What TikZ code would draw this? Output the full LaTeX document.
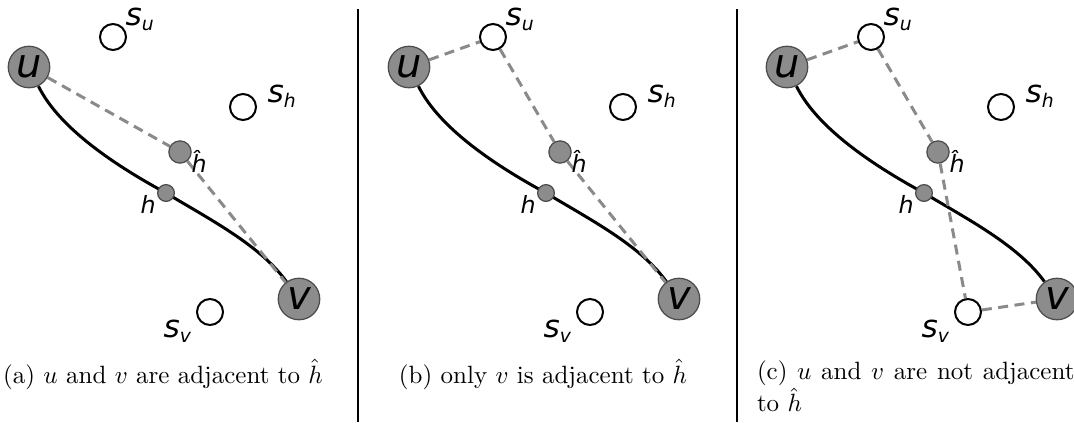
\documentclass[tikz,border=0pt]{standalone}
\usepackage{fontspec}
\newfontfamily\dvs{DejaVu Sans}
\definecolor{nodegray}{HTML}{8C8C8C}
\definecolor{dashgray}{HTML}{8A8A8A}
\pgfdeclarelayer{bg}
\pgfsetlayers{bg,main}
\newcommand\lsub[1]{\raisebox{-2pt}{\fontsize{7.5}{7.5}\selectfont #1}}
\tikzset{
  big/.style={circle, fill=nodegray, draw=black!70, line width=0.5pt, minimum size=16.6pt, inner sep=0pt,
    font=\dvs\itshape\fontsize{16}{16}\selectfont},
  hatnode/.style={circle, fill=nodegray, draw=black!70, line width=0.5pt, minimum size=8.9pt, inner sep=0pt},
  smallnode/.style={circle, fill=nodegray, draw=black!70, line width=0.5pt, minimum size=6.7pt, inner sep=0pt},
  site/.style={circle, fill=white, draw=black, line width=0.8pt, minimum size=10.4pt, inner sep=0pt},
  lbl/.style={anchor=base west, inner sep=0pt, font=\dvs\itshape\fontsize{12.5}{12.5}\selectfont},
  hlbl/.style={anchor=base west, inner sep=0pt, font=\dvs\itshape\fontsize{9.5}{9.5}\selectfont},
  curvepath/.style={draw=black, line width=1.2pt},
  adj/.style={draw=dashgray, line width=1.2pt, dash pattern=on 4pt off 2.6pt},
  captext/.style={anchor=base, inner sep=0pt, font=\fontsize{10}{12}\selectfont},
  divider/.style={draw=black, line width=0.5pt}
}
\newcommand\mypanel{%
  \node[big] (u) at (29,67) {u};
  \node[big] (v) at (299,299) {v};
  \node[site] (su) at (113,37) {};
  \node[site] (sh) at (243,107) {};
  \node[site] (sv) at (210,312) {};
  \node[hatnode] (hh) at (180,152) {};
  \node[smallnode] (h) at (166,193) {};
  \node[lbl] (lsu) at (125,25) {s\lsub{u}};
  \node[lbl] (lsh) at (267,102) {s\lsub{h}};
  \node[lbl] (lsv) at (163,337) {s\lsub{v}};
  \node[hlbl] (lh) at (140,213) {h};
  \node[hlbl] (lhh) at (191,172) {ĥ};
  \begin{pgfonlayer}{bg}
    \draw[curvepath] (u) .. controls (60,130) and (120,168) .. (h.center)
      .. controls (209,219) and (260,245) .. (v);
  \end{pgfonlayer}
}
\begin{document}
\begin{tikzpicture}[x=0.4pt, y=-0.4pt]
  \useasboundingbox (0,0) rectangle (1074,422);
  % panel (a)
  \begin{scope}[name prefix=a-]
    \mypanel
    \begin{pgfonlayer}{bg}
      \draw[adj] (u) -- (hh) -- (v);
    \end{pgfonlayer}
  \end{scope}
  % panel (b)
  \begin{scope}[name prefix=b-, shift={(380,0)}]
    \mypanel
    \begin{pgfonlayer}{bg}
      \draw[adj] (u) -- (su) -- (hh) -- (v);
    \end{pgfonlayer}
  \end{scope}
  % panel (c)
  \begin{scope}[name prefix=c-, shift={(758,0)}]
    \mypanel
    \begin{pgfonlayer}{bg}
      \draw[adj] (u) -- (su) -- (hh) -- (sv) -- (v);
    \end{pgfonlayer}
  \end{scope}
  % dividers
  \draw[divider] (358,9) -- (358,422);
  \draw[divider] (737,9) -- (737,422);
  % captions
  \node[captext, text width=131pt, align=center] (capa) at (163,383) {(a) $u$ and $v$ are adjacent to $\hat{h}$};
  \node[captext, text width=131pt, align=center] (capb) at (543,383) {(b) only $v$ is adjacent to $\hat{h}$};
  \node[captext, text width=127pt, align=justify] (capc) at (915.75,379) {(c) $u$ and $v$ are not adjacent to $\hat{h}$};
\end{tikzpicture}
\end{document}
